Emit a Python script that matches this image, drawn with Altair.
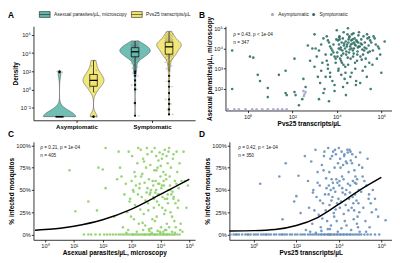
import altair as alt
import pandas as pd

FONT = "Liberation Sans"
TEAL = "#62b7ad"
YELLOW = "#f1e46e"
SYM_COL = "#2d6f64"
ASYM_COL = "#a6a2d2"
GREEN = "#8fcf6a"
BLUE = "#5f88b6"

# ---------------------------------------------------------------- data
categories = ["Asymptomatic", "Symptomatic"]
measures = ["Asexual parasites/µL, microscopy", "Pvs25 transcripts/µL"]
status = ["Asymptomatic", "Symptomatic"]
panel_letters = ["A", "B", "C", "D"]

# Panel A: log10 values (a zero is shown at 1e-3)
a_asym_asex = [-3, -3, -3, -3, -3, -3, -3, -3, -3, -3,
               -3, -3, -3, -3, -3, -3, -3, -3, -3, -3,
               -3, -3, 2.0, 1.9]
a_asym_pvs = [3.2, 2.6, 2.1, 1.8, 1.6, 1.4, 1.2, 1.0, 1.0, 0.8,
              0.6, 0.4, 0.2, -0.3, -3, -3]
a_sym_asex = [2.0, 1.8, 1.5, 1.0, 0.5, 0.0, -1.5, -2.9,
              2.15, 2.35, 2.5, 2.7, 2.85, 3.0, 3.1, 3.2, 3.26, 3.31, 3.37, 3.42, 3.46, 3.5, 3.53, 3.56, 3.59,
              3.61, 3.64, 3.67, 3.7, 3.72, 3.75, 3.78, 3.8, 3.83, 3.85, 3.88, 3.9, 3.92, 3.95, 3.97, 3.99,
              4.01, 4.03, 4.05, 4.07, 4.09, 4.1, 4.12, 4.13, 4.15,
              4.16, 4.18, 4.2, 4.22, 4.23, 4.25, 4.27, 4.28, 4.3, 4.31, 4.33, 4.35, 4.36, 4.38, 4.4, 4.42,
              4.43, 4.45, 4.47, 4.49, 4.51, 4.53, 4.55, 4.57, 4.6,
              4.62, 4.64, 4.66, 4.68, 4.7, 4.72, 4.74, 4.76, 4.78, 4.8, 4.83, 4.85, 4.88, 4.9, 4.93, 4.96,
              4.99, 5.02, 5.05, 5.09, 5.13, 5.17, 5.22, 5.28, 5.35]
a_sym_pvs = [1.5, 0.9, 0.3, -0.4, -1.1, -1.6, -2.2, -2.75,
             2.0, 2.3, 2.6, 2.8, 3.0, 3.15, 3.3, 3.4, 3.5, 3.57, 3.63, 3.68, 3.73, 3.77, 3.81, 3.85, 3.88,
             3.9, 3.94, 3.98, 4.02, 4.06, 4.1, 4.14, 4.18, 4.22, 4.25, 4.28, 4.31, 4.34, 4.37, 4.4, 4.43,
             4.46, 4.49, 4.52, 4.55, 4.58, 4.61, 4.64, 4.67, 4.69,
             4.71, 4.73, 4.75, 4.77, 4.79, 4.81, 4.83, 4.85, 4.87, 4.89, 4.91, 4.93, 4.95, 4.97, 4.99, 5.01,
             5.03, 5.05, 5.07, 5.09, 5.11, 5.13, 5.15, 5.17, 5.2,
             5.23, 5.26, 5.29, 5.32, 5.35, 5.38, 5.41, 5.45, 5.49, 5.53, 5.57, 5.61, 5.65, 5.7, 5.75, 5.8,
             5.85, 5.9, 5.96, 6.02, 6.08, 6.15, 6.22, 6.3, 6.4]

# Panel B: log10 Pvs25 transcripts/µL (x) vs log10 asexual parasites/µL (y)
b_asym_pvs = [-0.9, -0.6, -0.4, -0.1, 0.2, 0.4, 0.65, 0.9,
              1.15, 1.35, 1.55, 1.75, 2.5, 2.55, 2.6, 2.52]
b_asym_asex = [1.0, 1.0, 1.0, 1.0, 1.0, 1.0, 1.0, 1.0,
               1.0, 1.0, 1.0, 1.0, 1.9, 1.75, 1.85, 1.65]
b_sym_pvs = [
    -0.7, -0.7, 0.1, 0.25, 0.45, 0.55, 0.9, 0.9, 1.4, 1.7,
    1.7, 1.75, 2.1, 2.1, 2.15, 2.3, 2.45, 2.5, 2.6, 2.7,
    2.8, 2.9, 3.0, 3.0, 3.05, 3.1, 3.15, 3.2, 3.2, 3.25,
    3.3, 3.3, 3.35, 3.4, 3.4, 3.45, 3.5, 3.5, 3.55, 3.6,
    3.6, 3.65, 3.7, 3.7, 3.75, 3.8, 3.8, 3.85, 3.9, 3.9,
    3.95, 3.95, 3.6, 3.75, 3.85, 3.9, 3.55, 3.7, 3.98, 3.65,
    4.0, 4.02, 4.05, 4.08, 4.1, 4.12, 4.15, 4.18, 4.2, 4.22,
    4.25, 4.27, 4.3, 4.32, 4.35, 4.37, 4.4, 4.42, 4.45, 4.47,
    4.03, 4.13, 4.23, 4.33, 4.43, 4.48, 4.07, 4.17, 4.28, 4.38,
    4.09, 4.19, 4.29, 4.39, 4.49, 4.11, 4.21, 4.31, 4.41, 4.46,
    4.5, 4.52, 4.55, 4.57, 4.6, 4.62, 4.65, 4.67, 4.7, 4.72,
    4.75, 4.77, 4.8, 4.82, 4.85, 4.87, 4.9, 4.92, 4.95, 4.97,
    4.53, 4.58, 4.63, 4.68, 4.73, 4.78, 4.83, 4.88, 4.93, 4.98,
    4.51, 4.56, 4.61, 4.66, 4.71, 4.76, 4.81, 4.86, 4.91, 4.96,
    5.0, 5.03, 5.06, 5.1, 5.13, 5.16, 5.2, 5.23, 5.26, 5.3,
    5.33, 5.36, 5.4, 5.43, 5.46, 5.5, 5.05, 5.15, 5.25, 5.35,
    5.08, 5.18, 5.28, 5.38, 5.48, 5.55, 5.62, 5.7, 5.8, 5.9,
    6.15, 5.75, 5.95, 5.6, 6.0, 5.65, 5.85, 5.52, 5.45, 5.12]
b_sym_asex = [
    3.9, 2.0, 3.6, 3.55, 2.7, 2.4, 2.05, 1.6, 2.7, 2.9,
    1.8, 1.7, 3.5, 1.85, 1.7, 1.2, 1.5, 2.5, 2.1, 4.15,
    3.4, 4.0, 4.7, 3.1, 4.0, 3.6, 2.6, 3.9, 1.5, 2.3,
    4.2, 2.9, 3.3, 1.8, 4.5, 2.0, 3.7, 2.6, 4.6, 4.4,
    3.2, 4.3, 4.1, 2.8, 4.0, 3.9, 2.4, 3.8, 3.6, 2.2,
    3.5, 3.3, 3.0, 3.7, 4.2, 1.9, 3.4, 2.6, 4.45, 1.4,
    4.9, 3.8, 4.4, 3.0, 4.2, 4.6, 3.5, 4.05, 2.7, 4.3,
    3.9, 4.5, 3.2, 4.15, 2.5, 4.0, 4.35, 3.7, 4.1, 2.3,
    3.6, 4.45, 3.3, 4.25, 3.85, 4.7, 2.9, 3.95, 2.1, 3.1,
    4.0, 3.4, 3.75, 2.8, 3.55, 4.55, 3.65, 4.8, 1.7, 4.2,
    5.0, 4.3, 3.8, 4.6, 4.1, 3.5, 4.4, 2.8, 4.25, 3.9,
    4.75, 4.0, 4.5, 3.3, 4.15, 2.4, 4.35, 3.7, 4.05, 4.65,
    4.45, 3.95, 4.2, 4.7, 3.6, 4.3, 3.0, 4.4, 3.85, 4.1,
    3.2, 4.55, 2.6, 4.0, 4.45, 3.75, 4.2, 2.2, 3.4, 4.3,
    4.8, 4.1, 3.6, 4.45, 4.2, 2.9, 4.6, 3.9, 4.3, 3.5,
    4.0, 4.7, 3.8, 4.15, 3.3, 4.4, 2.3, 3.95, 4.05, 2.6,
    4.25, 3.7, 3.1, 4.5, 3.85, 4.3, 3.9, 4.5, 3.5, 4.0,
    4.35, 4.2, 3.7, 3.2, 2.8, 4.6, 4.1, 2.0, 4.55, 3.45]

# Panel C: log10 asexual parasites/µL (x) vs % infected mosquitoes (y)
c_zero_x = [1.35, 1.5, 1.6, 1.75, 1.9, 2.05, 2.15, 2.25, 2.35, 2.45,
            2.55, 2.62, 2.7, 2.78, 2.85, 2.92, 3.0, 3.06, 3.12, 3.18,
            3.24, 3.3, 3.36, 3.42, 3.48, 3.54, 3.6, 3.66, 3.72, 3.78,
            3.84, 3.9, 3.96, 4.02, 4.08, 4.14, 4.2, 4.26, 4.32, 4.38,
            4.44, 4.5, 4.58, 4.66, 3.03, 3.45, 3.81, 4.11, 4.23, 3.63]
c_x = [0.85, 1.05, 1.5, 1.8, 1.85, 2.0, 2.1, 2.1, 2.55, 2.4,
       2.5, 2.6, 2.65, 2.7, 2.75, 2.8, 2.85, 2.9, 2.95, 3.0,
       3.02, 3.05, 3.08, 3.1, 3.12, 3.15, 3.18, 3.2, 3.22, 3.25,
       3.27, 3.3, 2.88, 2.93, 2.98, 3.13, 3.23, 3.28, 2.82, 3.07,
       3.32, 3.35, 3.37, 3.4, 3.42, 3.45, 3.47, 3.5, 3.52, 3.55,
       3.57, 3.6, 3.62, 3.65, 3.67, 3.7, 3.72, 3.75, 3.77, 3.79,
       3.33, 3.38, 3.43, 3.48, 3.53, 3.58, 3.63, 3.68, 3.73, 3.78,
       3.8, 3.82, 3.85, 3.87, 3.9, 3.92, 3.95, 3.97, 4.0, 4.02,
       4.05, 4.07, 4.1, 4.12, 4.15, 4.17, 4.2, 4.22, 4.25, 4.27,
       3.83, 3.88, 3.93, 3.98, 4.03, 4.08, 4.13, 4.18, 4.23, 4.28,
       3.81, 3.86, 3.91, 3.96, 4.01, 4.06, 4.11, 4.16, 4.21, 4.26,
       4.3, 4.33, 4.36, 4.4, 4.43, 4.46, 4.5, 4.53, 4.56, 4.6,
       4.63, 4.66, 4.7, 4.73, 4.76, 4.32, 4.38, 4.45, 4.52, 4.58,
       4.35, 4.42, 4.48, 4.55, 4.62, 4.68, 4.8, 4.85, 4.9, 4.95,
       3.55, 3.65, 3.75, 3.85, 3.95, 4.05, 4.15, 4.25, 4.35, 4.45,
       4.0, 4.1, 4.2, 3.9, 3.7, 3.6, 4.4, 4.5, 3.4, 4.3]
c_y = [72, 26, 37, 27, 75, 73, 97, 52, 93, 20,
       62, 75, 65, 8, 45, 57, 25, 93, 40, 60,
       88, 50, 17, 70, 33, 55, 3, 80, 45, 12,
       52, 28, 5, 37, 20, 65, 97, 57, 2, 48,
       95, 42, 68, 85, 23, 58, 10, 75, 47, 90,
       35, 62, 4, 78, 50, 93, 17, 55, 30, 72,
       65, 13, 82, 38, 97, 27, 45, 7, 60, 40,
       97, 47, 88, 20, 75, 57, 33, 92, 65, 8,
       85, 42, 70, 55, 95, 27, 62, 12, 80, 50,
       60, 37, 83, 3, 52, 90, 23, 67, 40, 93,
       15, 72, 45, 57, 77, 30, 60, 5, 88, 35,
       97, 55, 75, 20, 85, 42, 60, 8, 93, 30,
       52, 80, 12, 60, 3, 65, 45, 90, 35, 70,
       25, 48, 15, 57, 38, 5, 93, 60, 30, 55,
       52, 47, 42, 50, 45, 55, 40, 45, 50, 40,
       2, 3, 5, 4, 2, 6, 3, 2, 5, 8]

# Panel D: log10 Pvs25 transcripts/µL (x) vs % infected mosquitoes (y)
d_zero_x = [-1.1, -0.95, -0.8, -0.7, -0.55, -0.4, -0.3, -0.15, 0.0, 0.1,
            0.2, 0.35, 0.45, 0.55, 0.7, 0.8, 0.95, 1.05, 1.2, 1.3,
            1.45, 1.55, 1.7, 1.8, 1.95, 2.05, 2.2, 2.3, 2.4, 2.55,
            2.65, 2.75, 2.85, 2.95, 3.05, 3.15, 3.2, 3.3, 3.35, 3.45,
            3.5, 3.6, 3.65, 3.75, 3.8, 3.9, 3.95, 4.05, 4.1, 4.2,
            4.25, 4.35, 4.4, 4.5, 4.55, 4.65, 4.75, 4.85, 4.95, 5.05,
            5.2, 5.35, 5.5, 5.7, 5.9, -0.85, -0.25, 0.6, 1.35, 3.55]
d_x = [0.3, 1.2, 1.35, 1.5, 1.9, 2.0, 2.1, 2.2, 2.4, 2.45,
       2.55, 2.6, 2.7, 2.75, 2.8, 2.9, 2.95, 3.0, 3.05, 3.1,
       3.15, 3.2, 3.25, 3.3, 3.35, 3.4, 3.45, 2.65, 2.85, 3.0,
       3.12, 3.22, 3.32, 3.42, 3.48, 2.78, 3.18, 3.38, 2.92, 3.28,
       3.5, 3.53, 3.56, 3.6, 3.63, 3.66, 3.7, 3.73, 3.76, 3.8,
       3.83, 3.86, 3.9, 3.93, 3.96, 3.55, 3.65, 3.75, 3.85, 3.95,
       3.58, 3.68, 3.78, 3.88, 3.98, 3.62, 3.72, 3.82, 3.92, 3.52,
       4.0, 4.03, 4.06, 4.1, 4.13, 4.16, 4.2, 4.23, 4.26, 4.3,
       4.33, 4.36, 4.4, 4.43, 4.46, 4.05, 4.15, 4.25, 4.35, 4.45,
       4.08, 4.18, 4.28, 4.38, 4.48, 4.02, 4.12, 4.22, 4.32, 4.42,
       4.5, 4.53, 4.56, 4.6, 4.63, 4.66, 4.7, 4.73, 4.76, 4.8,
       4.83, 4.86, 4.9, 4.93, 4.96, 4.55, 4.65, 4.75, 4.85, 4.95,
       4.58, 4.68, 4.78, 4.88, 4.98, 4.52, 4.62, 4.72, 4.82, 4.92,
       5.0, 5.05, 5.1, 5.15, 5.2, 5.25, 5.3, 5.35, 5.4, 5.45,
       5.5, 5.55, 5.6, 5.7, 5.75, 5.85, 6.2, 5.12, 5.28, 5.42]
d_y = [57, 65, 17, 80, 37, 43, 66, 24, 88, 5,
       60, 30, 82, 12, 50, 95, 42, 70, 22, 55,
       8, 78, 35, 88, 45, 63, 15, 3, 27, 58,
       38, 18, 93, 52, 6, 47, 4, 27, 2, 72,
       97, 55, 33, 85, 10, 62, 42, 93, 24, 75,
       48, 90, 15, 58, 80, 70, 38, 52, 28, 3,
       6, 88, 20, 62, 40, 50, 58, 95, 35, 45,
       97, 60, 85, 37, 93, 52, 78, 23, 90, 45,
       82, 10, 95, 57, 70, 30, 65, 88, 50, 27,
       75, 47, 15, 80, 40, 55, 7, 62, 33, 92,
       95, 55, 83, 30, 90, 60, 17, 72, 45, 87,
       38, 62, 8, 50, 25, 93, 42, 58, 12, 78,
       5, 35, 65, 20, 3, 47, 80, 27, 57, 35,
       92, 48, 75, 30, 60, 15, 55, 85, 40, 8,
       35, 25, 50, 40, 28, 20, 16, 65, 3, 45]

# fitted curves
c_curve_x = [-0.35, 0, 1, 2, 3, 4, 5]
c_curve_y = [4.8, 5.5, 9.3, 16.5, 28.5, 45, 62]
d_curve_x = [-1.15, 0, 1, 2, 3, 4, 5, 6]
d_curve_y = [4.0, 4.3, 5.5, 10, 19, 34, 50, 64]

b_notes = ["ρ = 0.43, p < 1e-04", "n = 347"]
c_notes = ["ρ = 0.21, p = 1e-04", "n = 405"]
d_notes = ["ρ = 0.42, p < 1e-04", "n = 350"]

# ---------------------------------------------------------------- helpers
SUP = str.maketrans("-0123456789", "⁻⁰¹²³⁴⁵⁶⁷⁸⁹")


def pow_expr(ticks):
    expr = "''"
    for t in reversed(ticks):
        expr = f"datum.value == {t} ? '10{str(t).translate(SUP)}' : {expr}"
    return expr


def one(text=""):
    return alt.Chart(pd.DataFrame({"t": [text]}))


def letter_layer(letter, dx, dy):
    return one(letter).mark_text(
        align="left", baseline="top", fontSize=8.5, fontWeight="bold",
        font=FONT, color="black"
    ).encode(text="t:N", x=alt.value(dx), y=alt.value(dy))


def note_layer(lines, dx, dy):
    return one("\n".join(lines)).mark_text(
        align="left", baseline="top", fontSize=4.8, lineBreak="\n",
        lineHeight=8, font=FONT, color="#222"
    ).encode(text="t:N", x=alt.value(dx), y=alt.value(dy))


def label_layer(text, dx, dy):
    return one(text).mark_text(
        align="left", baseline="middle", fontSize=5, font=FONT, color="#222"
    ).encode(text="t:N", x=alt.value(dx), y=alt.value(dy))


# ---------------------------------------------------------------- panel A
a_sets = {
    (categories[0], measures[0]): a_asym_asex,
    (categories[0], measures[1]): a_asym_pvs,
    (categories[1], measures[0]): a_sym_asex,
    (categories[1], measures[1]): a_sym_pvs,
}
# kernel bandwidth (decades) used for each violin
a_bandwidth = {
    (categories[0], measures[0]): 0.65,
    (categories[0], measures[1]): 0.42,
    (categories[1], measures[0]): 0.28,
    (categories[1], measures[1]): 0.3,
}
rows = []
for (cat, meas), vals in a_sets.items():
    for v in vals:
        rows.append({"group": cat, "measure": meas,
                     "ci": categories.index(cat) + 1,
                     "mi": measures.index(meas), "v": v})
a_df = pd.DataFrame(rows)

DODGE = 0.225
VK = 0.38
BOXW = 0.05
JIT = 0.11
center_expr = f"datum.ci + (2*datum.mi - 1)*{DODGE}"
cat_expr = (f"datum.value == 1 ? '{categories[0]}' : "
            f"datum.value == 2 ? '{categories[1]}' : ''")

AX_A_X = alt.Axis(values=[1, 2], labelExpr=cat_expr, title=None,
                  labelFontWeight="bold", labelFontSize=6.2,
                  labelColor="black", labelPadding=1)
AX_A_Y = alt.Axis(values=[-2, 0, 2, 4, 6], labelExpr=pow_expr([-2, 0, 2, 4, 6]),
                  title="Density")
SX_A = alt.Scale(domain=[0.43, 2.57], nice=False, zero=False)
SY_A = alt.Scale(domain=[-3.4, 6.97], nice=False, zero=False)
FILL_A = alt.Scale(domain=measures, range=[TEAL, YELLOW])


def ax(f):
    return alt.X(f, type="quantitative", scale=SX_A, axis=AX_A_X)


def ay(f):
    return alt.Y(f, type="quantitative", scale=SY_A, axis=AX_A_Y)


grp = ["group", "measure", "ci", "mi"]
base_a = alt.Chart(a_df)

violins = []
for (cat, meas), bw in a_bandwidth.items():
    violins.append(
        base_a.transform_filter(
            alt.FieldEqualPredicate(field="group", equal=cat)
        ).transform_filter(
            alt.FieldEqualPredicate(field="measure", equal=meas)
        ).transform_density(
            "v", groupby=grp, bandwidth=bw, as_=["v", "dens"]
        ).transform_calculate(
            center=center_expr
        ).transform_calculate(
            xl=f"datum.center - datum.dens*{VK}", xr=f"datum.center + datum.dens*{VK}"
        ).mark_area(orient="horizontal", stroke="#444", strokeWidth=0.5,
                    fillOpacity=0.9).encode(
            y=ay("v"), x=ax("xl"), x2="xr:Q",
            fill=alt.Fill("measure:N", scale=FILL_A, legend=None),
        )
    )

jit = base_a.transform_window(
    rn="row_number()", groupby=["group", "measure"]
).transform_calculate(
    center=center_expr
).transform_calculate(
    jx=f"datum.center + ((datum.rn*0.618034) % 1 - 0.5)*{JIT}"
).mark_circle(size=3, color="#666", opacity=0.35).encode(x=ax("jx"), y=ay("v"))

stats = base_a.transform_joinaggregate(
    q1="q1(v)", q3="q3(v)", groupby=grp
).transform_calculate(
    lo="datum.q1 - 1.5*(datum.q3 - datum.q1)",
    hi="datum.q3 + 1.5*(datum.q3 - datum.q1)",
    center=center_expr,
)
whisk = stats.transform_filter(
    "datum.v >= datum.lo && datum.v <= datum.hi"
).transform_aggregate(
    wmin="min(v)", wmax="max(v)", groupby=grp + ["center"]
).mark_rule(color="black", strokeWidth=0.7).encode(
    x=ax("center"), y=ay("wmin"), y2="wmax:Q")

box_base = base_a.transform_aggregate(
    q1="q1(v)", q3="q3(v)", med="median(v)", groupby=grp
).transform_calculate(
    center=center_expr
).transform_calculate(
    bl=f"datum.center - {BOXW}", br=f"datum.center + {BOXW}"
)
box = box_base.mark_rect(stroke="black", strokeWidth=0.7).encode(
    x=ax("bl"), x2="br:Q", y=ay("q1"), y2="q3:Q",
    fill=alt.Fill("measure:N", scale=FILL_A, legend=None))
med = box_base.mark_rule(color="black", strokeWidth=1.3).encode(
    x=ax("bl"), x2="br:Q", y=ay("med"))

outl = stats.transform_filter(
    "datum.v < datum.lo || datum.v > datum.hi"
).mark_circle(size=5, color="black", opacity=1).encode(x=ax("center"), y=ay("v"))

# legend of panel A (swatch + label for each measure)
leg_a = []
for i, (meas, col) in enumerate(zip(measures, [TEAL, YELLOW])):
    x0 = 6 + i * 94
    leg_a.append(one().mark_rect(fill=col, stroke="#222", strokeWidth=0.6).encode(
        x=alt.value(x0), x2=alt.value(x0 + 11), y=alt.value(-15), y2=alt.value(-9)))
    leg_a.append(one().mark_rule(color="#222", strokeWidth=0.6).encode(
        x=alt.value(x0), x2=alt.value(x0 + 11), y=alt.value(-12)))
    leg_a.append(label_layer(meas, x0 + 15, -12))

panel_a = alt.layer(
    *violins, jit, whisk, box, med, outl, *leg_a,
    letter_layer(panel_letters[0], -26, -15)
).properties(width=165, height=96)

# ---------------------------------------------------------------- panel B
b_df = pd.DataFrame({
    "x": b_sym_pvs + b_asym_pvs,
    "y": b_sym_asex + b_asym_asex,
    "s": [status[1]] * len(b_sym_pvs) + [status[0]] * len(b_asym_pvs),
})
COL_B = alt.Scale(domain=status, range=[ASYM_COL, SYM_COL])
pts_b = alt.Chart(b_df).mark_circle(size=7, opacity=0.9).encode(
    x=alt.X("x:Q", scale=alt.Scale(domain=[-1.0, 6.48], nice=False, zero=False),
            axis=alt.Axis(values=[0, 2, 4, 6], labelExpr=pow_expr([0, 2, 4, 6]),
                          title="Pvs25 transcripts/µL")),
    y=alt.Y("y:Q", scale=alt.Scale(domain=[0.94, 5.1], nice=False, zero=False),
            axis=alt.Axis(values=[2, 3, 4, 5], labelExpr=pow_expr([2, 3, 4, 5]),
                          title="Asexual parasites/µL, microscopy")),
    color=alt.Color("s:N", scale=COL_B, legend=None),
)
leg_b = []
for i, (st, col) in enumerate(zip(status, [ASYM_COL, SYM_COL])):
    x0 = 48 + i * 42
    leg_b.append(one().mark_circle(size=10, color=col, opacity=1).encode(
        x=alt.value(x0), y=alt.value(-12)))
    leg_b.append(label_layer(st, x0 + 6, -12))

panel_b = alt.layer(
    pts_b, *leg_b, note_layer(b_notes, 8, 6),
    letter_layer(panel_letters[1], -27, -15)
).properties(width=170, height=86)

# ---------------------------------------------------------------- panels C, D
pct_axis = alt.Axis(values=[0, 25, 50, 75, 100], labelExpr="datum.value + '%'",
                    title="% infected mosquitos")
pct_scale = alt.Scale(domain=[-6, 104], nice=False, zero=False)

c_df = pd.DataFrame({"x": c_zero_x + c_x, "y": [0] * len(c_zero_x) + c_y})
c_curve = pd.DataFrame({"x": c_curve_x, "y": c_curve_y})
cx = alt.X("x:Q", scale=alt.Scale(domain=[-0.4, 5.2], nice=False, zero=False),
           axis=alt.Axis(values=[0, 1, 2, 3, 4, 5], labelExpr=pow_expr([0, 1, 2, 3, 4, 5]),
                         title="Asexual parasites/µL, microscopy"))
cy = alt.Y("y:Q", scale=pct_scale, axis=pct_axis)
panel_c = alt.layer(
    alt.Chart(c_df).mark_circle(size=7, color=GREEN, opacity=0.9).encode(x=cx, y=cy),
    alt.Chart(c_curve).mark_line(color="black", strokeWidth=1.5,
                                 interpolate="monotone").encode(x=cx, y=cy),
    note_layer(c_notes, 7, 3),
    letter_layer(panel_letters[2], -26, -12),
).properties(width=165, height=100)

d_df = pd.DataFrame({"x": d_zero_x + d_x, "y": [0] * len(d_zero_x) + d_y})
d_curve = pd.DataFrame({"x": d_curve_x, "y": d_curve_y})
dx = alt.X("x:Q", scale=alt.Scale(domain=[-1.15, 6.5], nice=False, zero=False),
           axis=alt.Axis(values=[0, 2, 4, 6], labelExpr=pow_expr([0, 2, 4, 6]),
                         title="Pvs25 transcripts/µL"))
dy = alt.Y("y:Q", scale=pct_scale, axis=pct_axis)
panel_d = alt.layer(
    alt.Chart(d_df).mark_circle(size=7, color=BLUE, opacity=0.85).encode(x=dx, y=dy),
    alt.Chart(d_curve).mark_line(color="black", strokeWidth=1.5,
                                 interpolate="monotone").encode(x=dx, y=dy),
    note_layer(d_notes, 9, 3),
    letter_layer(panel_letters[3], -31, -12),
).properties(width=166, height=100)

row1 = alt.hconcat(panel_a, panel_b, spacing=4)
row2 = alt.hconcat(panel_c, panel_d, spacing=4)

chart = alt.vconcat(row1, row2, spacing=0).properties(padding=0).configure(
    font=FONT
).configure_view(stroke=None).configure_axis(
    labelFont=FONT, titleFont=FONT, labelFontSize=5.8, titleFontSize=6.6,
    titleFontWeight="bold", labelColor="#222", titleColor="black",
    domainColor="black", tickColor="black", domainWidth=0.8, tickWidth=0.8,
    tickSize=2.2, labelPadding=1, titlePadding=1.5, grid=False,
)

chart.save("out.html", embed_options={"renderer": "svg", "actions": False})
